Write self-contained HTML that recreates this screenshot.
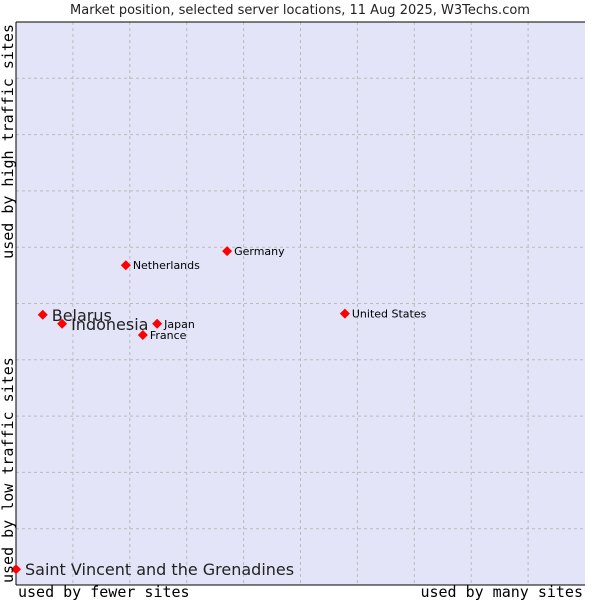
<!DOCTYPE html>
<html><head><meta charset="utf-8"><style>
body{margin:0;background:#fff;width:600px;height:600px;overflow:hidden}
svg{display:block}
</style></head><body>
<svg id="chart" width="600" height="600" xmlns="http://www.w3.org/2000/svg">
<text x="300" y="14" text-anchor="middle" font-family="DejaVu Sans, sans-serif" font-size="13" fill="#222">Market position, selected server locations, 11 Aug 2025, W3Techs.com</text>
<rect x="16" y="22" width="569" height="563" fill="#e3e4f8"/>
<g id="grid"></g>
<line x1="16" y1="22" x2="585" y2="22" stroke="#000"/>
<line x1="16" y1="22" x2="16" y2="585" stroke="#000"/>
<line x1="16" y1="585" x2="585" y2="585" stroke="#000"/>
<g id="points"></g>
<text x="18" y="597" font-family="DejaVu Sans Mono, monospace" font-size="15" fill="#000">used by fewer sites</text>
<text x="583" y="597" text-anchor="end" font-family="DejaVu Sans Mono, monospace" font-size="15" fill="#000">used by many sites</text>
<text transform="translate(13,583) rotate(-90)" font-family="DejaVu Sans Mono, monospace" font-size="15" fill="#000">used by low traffic sites</text>
<text transform="translate(13,24) rotate(-90)" text-anchor="end" font-family="DejaVu Sans Mono, monospace" font-size="15" fill="#000">used by high traffic sites</text>
</svg>
<script>
const names=["Saint Vincent and the Grenadines","Belarus","Indonesia","Netherlands","Germany","Japan","France","United States"];
const xValues=[0,4.7,8.1,19.3,37.1,24.8,22.3,57.8];
const yValues=[2.8,48.0,46.4,56.8,59.3,46.4,44.4,48.2];
const bigLabel=[true,true,true,false,false,false,false,false];
const NS="http://www.w3.org/2000/svg";
const X=v=>16+v*5.69, Y=v=>585-v*5.63;
const grid=document.getElementById('grid');
for(let i=1;i<10;i++){
  const a=document.createElementNS(NS,'line');
  a.setAttribute('x1',X(i*10));a.setAttribute('x2',X(i*10));a.setAttribute('y1',22);a.setAttribute('y2',585);
  a.setAttribute('stroke','#bbb');a.setAttribute('stroke-dasharray','3,3');
  
  
  grid.appendChild(a);
  const b=document.createElementNS(NS,'line');
  b.setAttribute('y1',Y(i*10));b.setAttribute('y2',Y(i*10));b.setAttribute('x1',16);b.setAttribute('x2',585);
  b.setAttribute('stroke','#bbb');b.setAttribute('stroke-dasharray','3,3');
  
  
  grid.appendChild(b);
}
const pts=document.getElementById('points');
names.forEach((n,i)=>{
  const cx=X(xValues[i]), cy=Y(yValues[i]);
  const d=document.createElementNS(NS,'polygon');
  d.setAttribute('points',`${cx},${cy-5} ${cx+5},${cy} ${cx},${cy+5} ${cx-5},${cy}`);
  d.setAttribute('fill','#f00');
  
  
  pts.appendChild(d);
  const t=document.createElementNS(NS,'text');
  t.setAttribute('x',cx+(bigLabel[i]?9:7));
  t.setAttribute('y',cy+(bigLabel[i]?6:4));
  t.setAttribute('font-family','DejaVu Sans, sans-serif');
  t.setAttribute('font-size',bigLabel[i]?16:11);
  t.setAttribute('fill',bigLabel[i]?'#222':'#000');
  t.textContent=n;
  
  
  pts.appendChild(t);
});
</script>
</body></html>
